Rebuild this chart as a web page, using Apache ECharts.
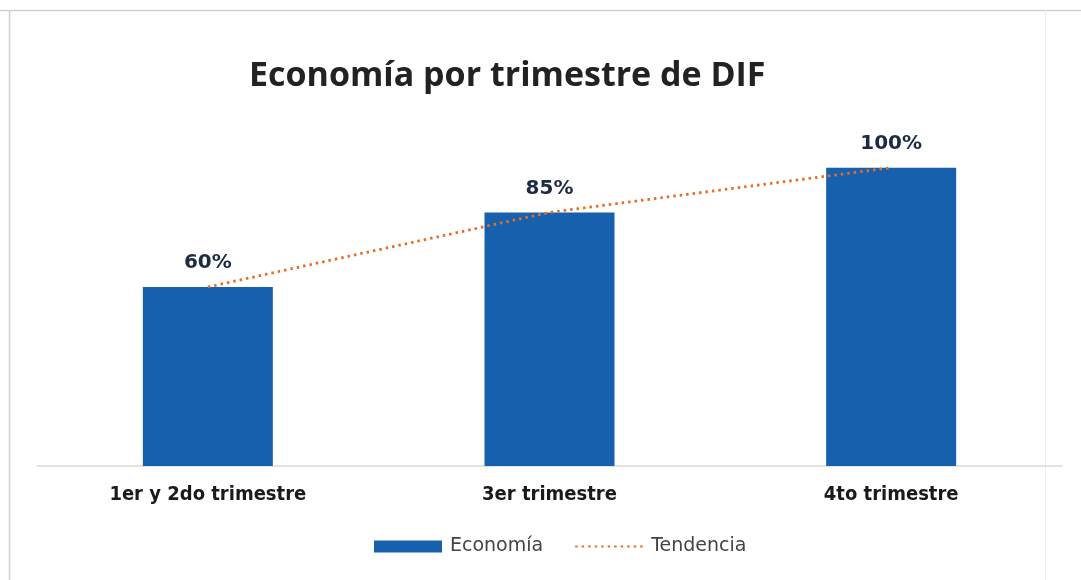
<!DOCTYPE html>
<html>
<head>
<meta charset="utf-8">
<script src="https://cdn.jsdelivr.net/npm/echarts@6/dist/echarts.min.js"></script>
<style>
  html, body { margin: 0; padding: 0; background: #fff; }
  #chart1 { width: 1081px; height: 580px; }
</style>
</head>
<body>
<div id="chart1"></div>
<script>
// datos del gráfico
var categorias = ['1er y 2do trimestre', '3er trimestre', '4to trimestre'];
var economia = [60, 85, 100];
var tendencia = [60, 85, 100];

var myChart = {
	init: function () {
		var option = {
			backgroundColor: '#fff',
			animation: false,
			title: {
				text: 'Economía por trimestre de DIF',
				left: 244,
				top: 54,
				textStyle: {
					fontFamily: 'Open Sans',
					fontWeight: 'bold',
					fontSize: 34,
					color: '#222'
				}
			},
			graphic: [
				{ type: 'line', shape: { x1: 0, y1: 10.5, x2: 1081, y2: 10.5 }, style: { stroke: '#cfcfcf', lineWidth: 1.5 } },
				{ type: 'line', shape: { x1: 9.5, y1: 10, x2: 9.5, y2: 580 }, style: { stroke: '#d4d4d4', lineWidth: 1.5 } },
				{ type: 'line', shape: { x1: 1045.5, y1: 10, x2: 1045.5, y2: 580 }, style: { stroke: '#ececec', lineWidth: 1 } }
			],
			legend: {
				bottom: 19,
				left: 369,
				itemGap: 31,
				itemWidth: 68,
				itemHeight: 12,
				textStyle: { fontFamily: 'DejaVu Sans', fontSize: 19, color: '#444', padding: [0, 0, 0, 3] },
				data: [
					{ name: 'Economía', icon: 'rect' },
					{ name: 'Tendencia', itemStyle: { opacity: 0 } }
				]
			},
			grid: {
				left: 37,
				right: 19,
				top: 108,
				bottom: 114
			},
			xAxis: {
				type: 'category',
				data: categorias,
				axisTick: { show: false },
				axisLine: { lineStyle: { color: '#d9d9d9', width: 1.5 } },
				axisLabel: {
					margin: 19,
					fontFamily: 'DejaVu Sans Condensed',
					fontWeight: 'bold',
					fontSize: 20,
					color: '#1a1a1a'
				}
			},
			yAxis: {
				type: 'value',
				min: 0,
				max: 120,
				show: false,
				splitLine: { show: false }
			},
			series: [
				{
					name: 'Economía',
					type: 'bar',
					barWidth: 130,
					itemStyle: { color: '#1660ad' },
					label: {
						show: true,
						position: 'top',
						distance: 14,
						formatter: '{c}%',
						fontFamily: 'DejaVu Sans',
						fontWeight: 'bold',
						fontSize: 20,
						color: '#1c2a44'
					},
					data: economia
				},
				{
					name: 'Tendencia',
					type: 'line',
					symbol: 'none',
					lineStyle: { color: '#e46f27', width: 2.8, type: [2.5, 4] },
					itemStyle: { color: '#e46f27' },
					data: tendencia
				}
			]
		};
		var chart = echarts.init(document.getElementById('chart1'));
		chart.setOption(option);
		return chart;
	}
};

myChart.init();
</script>
</body>
</html>
